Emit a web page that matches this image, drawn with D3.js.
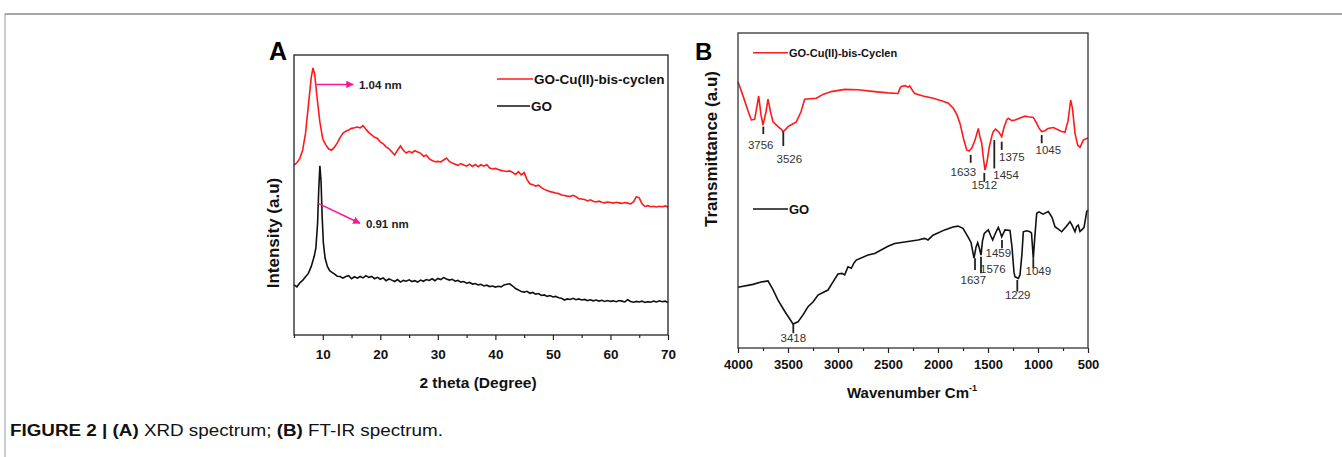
<!DOCTYPE html>
<html>
<head>
<meta charset="utf-8">
<script src="https://cdn.jsdelivr.net/npm/d3@7"></script>
<style>
  body { margin: 0; background: #fff; }
  svg { display: block; font-family: "Liberation Sans", Arial, sans-serif; }
</style>
</head>
<body>
<div id="figure"></div>
<script>
// ---- XRD (panel A): 2theta in degree, intensity in arbitrary units
const xrdGoCu = [
  [5,60.7],[5.5,61.5],[6,63],[6.5,66],[7,72],[7.5,82],[8,92],[8.3,95.4],[8.6,93],[9,85],[9.5,76],[10,70],
  [10.5,68],[11,66.5],[11.5,66],[12,67],[12.5,68.5],[13,70.5],[13.5,72],[14,72.8],[14.5,73.2],[15,73.8],
  [15.5,74],[16,74.3],[16.5,74],[17,74.8],[17.5,73.5],[18,72.3],[18.5,71.5],[19,70.6],[19.5,70.2],[20,69],
  [20.5,68.3],[21,67.2],[21.5,66.5],[22,65.4],[22.5,64.3],[23,66],[23.5,67.5],[24,66],[24.5,65],[25,65.6],
  [25.5,65.1],[26,65.8],[26.5,65.4],[27,64.9],[27.5,63.8],[28,64.2],[28.5,63],[29,62.3],[29.5,61.9],[30,62],
  [30.5,61.8],[31,62.5],[31.5,63.2],[32,62],[32.5,61.4],[33,61],[33.5,60.6],[34,61.2],[34.5,60.7],[35,60.3],
  [35.5,61],[36,60.2],[36.5,60.9],[37,60.1],[37.5,60.8],[38,60.3],[38.5,60.9],[39,59.6],[39.5,59.3],[40,59.5],
  [40.5,59.1],[41,58.8],[41.5,58.6],[42,58.4],[42.5,58.6],[43,58.1],[43.5,57.3],[44,58.3],[44.5,57.2],[45,58],
  [45.5,55.5],[46,54],[46.5,53.7],[47,53.2],[47.5,53.5],[48,52.6],[48.5,52],[49,51.6],[49.5,51.2],[50,51],
  [50.5,50.7],[51,50.5],[51.5,50],[52,49.8],[52.5,49.6],[53,49.5],[53.5,49.9],[54,49.4],[54.5,48.7],[55,48.6],
  [55.5,48.4],[56,47.9],[56.5,48.3],[57,47.8],[57.5,47.5],[58,47.8],[58.5,47.4],[59,47.2],[59.5,47.5],[60,47.3],
  [60.5,47.1],[61,47.4],[61.5,47.2],[62,47],[62.5,47.3],[63,47.1],[63.5,46.8],[64,47.5],[64.5,49.4],[65,49],
  [65.5,46.8],[66,45.9],[66.5,46.2],[67,45.8],[67.5,46],[68,45.7],[68.5,46],[69,45.8],[69.5,46.1],[70,45.7]
];
const xrdGo = [
  [5,17.9],[5.5,17.2],[6,18.6],[6.5,19.5],[7,20.8],[7.5,22],[8,24.5],[8.5,28],[8.8,31],[9.1,40],[9.3,52],
  [9.5,60.4],[9.7,55],[9.9,42],[10.1,33],[10.4,27.5],[10.8,24.5],[11.2,23],[11.6,22.4],[12,21.8],[12.5,21],
  [13,20.9],[13.5,20.3],[14,20.9],[14.5,21.2],[15,20.1],[15.5,20.8],[16,20.3],[16.5,20.9],[17,20.4],[17.5,21.2],
  [18,20.6],[18.5,20.9],[19,20.1],[19.5,20.6],[20,19.9],[20.5,20.4],[21,19.4],[21.5,20],[22,19.6],[22.5,19.1],
  [23,19.8],[23.5,18.9],[24,19.5],[24.5,19.2],[25,19.7],[25.5,19.1],[26,19.4],[26.5,18.9],[27,19.6],[27.5,19.2],
  [28,19.8],[28.5,19.5],[29,20.1],[29.5,19.4],[30,20.2],[30.5,19.8],[31,20.5],[31.5,20],[32,19.6],[32.5,19.9],
  [33,19.2],[33.5,19.5],[34,18.9],[34.5,19.1],[35,18.5],[35.5,18.8],[36,18.2],[36.5,18.4],[37,17.9],[37.5,18.1],
  [38,17.5],[38.5,17.8],[39,17.3],[39.5,17.5],[40,17.1],[40.5,17.4],[41,17.2],[41.5,17.9],[42,18.1],[42.5,18.3],
  [43,17.5],[43.5,16.6],[44,16.1],[44.5,15.5],[45,15.3],[45.5,15.6],[46,14.9],[46.5,15.2],[47,14.6],[47.5,14.8],
  [48,14.1],[48.5,14.3],[49,13.8],[49.5,14.1],[50,13.6],[50.5,13.8],[51,13.3],[51.5,13.1],[52,12.5],[52.5,12.9],
  [53,12.7],[53.5,13.1],[54,12.6],[54.5,12.9],[55,12.5],[55.5,12.7],[56,12.3],[56.5,12.6],[57,12.2],[57.5,12.5],
  [58,12.1],[58.5,12.4],[59,12],[59.5,12.3],[60,12],[60.5,12.2],[61,11.9],[61.5,12.3],[62,12.1],[62.5,11.8],
  [63,12.6],[63.5,12],[64,11.7],[64.5,12],[65,11.8],[65.5,12.1],[66,11.6],[66.5,11.9],[67,11.7],[67.5,12.1],
  [68,11.8],[68.5,12.2],[69,11.9],[69.5,12.1],[70,11.6]
];
const xrdTicks = [10, 20, 30, 40, 50, 60, 70];
const xrdMinorTicks = [5, 15, 25, 35, 45, 55, 65];
// d-spacing arrows: label, start and end in (degree, a.u)
const xrdArrows = [
  { label: "1.04 nm", from: [8.9, 89.5], to: [15.25, 89.5] },
  { label: "0.91 nm", from: [9.2, 47], to: [16.45, 39.9] }
];

// ---- FT-IR (panel B): wavenumber in cm-1, transmittance in arbitrary units
const irGoCu = [
  [4000,84.5],[3947,79.8],[3897,75],[3867,72.4],[3833,72.6],[3793,80],[3770,74],[3750,70.8],[3720,75],[3700,79],
  [3675,75],[3650,71.8],[3600,70.3],[3570,69.5],[3550,68.7],[3520,69.5],[3500,70.3],[3450,71.2],[3417,71.8],
  [3370,75],[3333,79],[3217,79.3],[3150,80.5],[3067,81.4],[2933,82.1],[2800,82],[2633,81.4],[2500,81],[2400,80.8],
  [2380,82.5],[2367,83],[2330,83.3],[2300,82.8],[2283,83.2],[2250,81.5],[2233,80.8],[2150,80],[2047,79.3],
  [1950,78.3],[1897,77.7],[1847,76.1],[1810,74],[1780,71.3],[1745,66.5],[1713,62.9],[1690,62.5],[1663,63.4],
  [1630,66],[1597,69.7],[1580,67],[1563,65],[1545,60],[1530,56.5],[1510,59],[1487,63.9],[1460,67.5],[1447,68.7],
  [1425,69.5],[1413,69.2],[1390,68.5],[1363,67.1],[1340,70],[1313,72.4],[1297,72.9],[1260,72.2],[1230,72.4],
  [1180,73],[1130,73.6],[1097,73.4],[1047,73.2],[1013,71.3],[990,69.8],[963,68.7],[930,69],[900,69.7],[847,70],
  [800,69.3],[763,68.7],[730,68.5],[700,72],[673,78.7],[655,76],[630,68.1],[603,64.4],[580,63.7],[547,66],
  [513,66.5],[500,66.7]
];
const irGo = [
  [4000,19.3],[3850,20.2],[3760,21],[3700,21.3],[3650,18.5],[3600,15.2],[3530,11.5],[3450,7.6],[3400,8.3],
  [3350,10.5],[3300,13.1],[3250,14.6],[3200,16.8],[3150,17.6],[3100,18.4],[3050,21],[3000,23.5],[2960,23.7],
  [2933,23.2],[2900,25.8],[2867,25.3],[2840,27],[2817,27.9],[2700,29.5],[2633,30],[2500,32.3],[2433,33.2],
  [2300,33.8],[2200,34.3],[2133,34.8],[2100,34.3],[2050,35.8],[1933,37.5],[1850,38.4],[1800,38.7],[1750,38],
  [1700,35.3],[1670,33.5],[1640,28.5],[1620,32],[1603,33.4],[1585,31.5],[1570,29.5],[1555,34],[1537,36.4],
  [1497,37.5],[1475,35.8],[1453,34.3],[1425,36.5],[1397,38.3],[1380,37],[1363,35.3],[1330,37.5],[1280,37.3],
  [1260,32],[1240,24],[1230,22.6],[1197,22.1],[1180,23.2],[1160,30],[1147,36.9],[1115,37.2],[1080,36.9],
  [1065,36.5],[1047,28.5],[1030,36],[1013,42.8],[990,43.2],[950,42.5],[897,43.3],[860,41.5],[830,38.5],
  [800,37.8],[763,36.9],[720,38.5],[680,40.1],[660,39],[630,36.9],[615,38.5],[597,39],[580,37],[563,37.5],
  [540,38.2],[513,43.3],[500,43.8]
];
const irTicks = [4000, 3500, 3000, 2500, 2000, 1500, 1000, 500];
const irMinorTicks = [3750, 3250, 2750, 2250, 1750, 1250, 750];
// band markers: label, tick position (cm-1), tick top/bottom (a.u), label x (cm-1), label baseline (a.u), anchor
const irBandsGoCu = [
  ["3756", 3747, 70.3, 67.9, 3773, 63.1, "middle"],
  ["3526", 3547, 68.7, 64.1, 3487, 58.6, "middle"],
  ["1633", 1673, 61.3, 58.8, 1747, 54.6, "middle"],
  ["1512", 1537, 55.6, 52.8, 1537, 50.4, "middle"],
  ["1454", 1437, 66, 57, 1447, 53.7, "start"],
  ["1375", 1363, 65.5, 62.9, 1390, 59.4, "start"],
  ["1045", 963, 67.6, 65, 897, 61.5, "middle"]
];
const irBandsGo = [
  ["3418", 3447, 7.8, 4.7, 3447, 2, "middle"],
  ["1637", 1630, 28.5, 24.8, 1647, 20.3, "middle"],
  ["1576", 1570, 29, 23.7, 1580, 23.7, "start"],
  ["1459", 1360, 34.3, 31.7, 1397, 29, "middle"],
  ["1229", 1207, 21.6, 17.9, 1203, 15.5, "middle"],
  ["1049", 1047, 28.5, 25.3, 997, 23.2, "middle"]
];

const width = 1342, height = 457;
const RED = "#ff1a1a", PINK = "#ff1493";

const svg = d3.select("#figure").append("svg")
  .attr("width", width)
  .attr("height", height);

svg.append("defs").append("marker")
  .attr("id", "arrowhead")
  .attr("viewBox", "0 0 10 10")
  .attr("refX", 9).attr("refY", 5)
  .attr("markerWidth", 5).attr("markerHeight", 5)
  .attr("markerUnits", "strokeWidth")
  .attr("orient", "auto")
  .append("path")
  .attr("d", "M0,0L10,5L0,10Z")
  .attr("fill", PINK);

// page frame lines
svg.append("line")
  .attr("x1", 5).attr("x2", width).attr("y1", 14).attr("y2", 14)
  .attr("stroke", "#8a8a8a").attr("stroke-width", 1.5);
svg.append("line")
  .attr("x1", 5).attr("x2", 5).attr("y1", 14).attr("y2", height)
  .attr("stroke", "#9a9a9a").attr("stroke-width", 1);

function styleAxis(g, size) {
  g.select(".domain").remove();
  g.selectAll(".tick line").attr("stroke", "#222").attr("stroke-width", 1.2);
  g.selectAll(".tick text")
    .attr("fill", "#111")
    .attr("font-size", size)
    .attr("font-weight", "bold");
}

function drawXrd() {
  const x = d3.scaleLinear().domain([5, 70]).range([294, 668]);
  const y = d3.scaleLinear().domain([0, 100]).range([335, 55]);
  const g = svg.append("g").attr("class", "xrd");

  g.append("g")
    .attr("transform", "translate(0,335)")
    .call(d3.axisBottom(x).tickValues(xrdMinorTicks).tickSize(3).tickFormat(""))
    .call(a => styleAxis(a, 13));
  g.append("g")
    .attr("transform", "translate(0,335)")
    .call(d3.axisBottom(x).tickValues(xrdTicks).tickSize(5).tickPadding(9).tickFormat(d3.format("d")))
    .call(a => styleAxis(a, 13.5));

  const line = d3.line().x(d => x(d[0])).y(d => y(d[1]));
  g.append("path").datum(xrdGoCu)
    .attr("d", line).attr("fill", "none").attr("stroke", RED).attr("stroke-width", 1.6);
  g.append("path").datum(xrdGo)
    .attr("d", line).attr("fill", "none").attr("stroke", "#111").attr("stroke-width", 1.6);

  g.append("rect")
    .attr("x", 294).attr("y", 55).attr("width", 374).attr("height", 280)
    .attr("fill", "none").attr("stroke", "#222").attr("stroke-width", 1.3);

  // d-spacing arrows
  xrdArrows.forEach(a => {
    g.append("line")
      .attr("x1", x(a.from[0])).attr("y1", y(a.from[1]))
      .attr("x2", x(a.to[0])).attr("y2", y(a.to[1]))
      .attr("stroke", PINK).attr("stroke-width", 1.5)
      .attr("marker-end", "url(#arrowhead)");
    g.append("text")
      .attr("x", x(a.to[0]) + 6).attr("y", y(a.to[1]) + 4.5)
      .attr("font-size", 11.5).attr("font-weight", "bold").attr("fill", "#222")
      .text(a.label);
  });

  // legend
  const legend = [["GO-Cu(II)-bis-cyclen", RED, 79, 36], ["GO", "#111", 106, 33]];
  legend.forEach(([name, color, ly, len]) => {
    g.append("line")
      .attr("x1", 497).attr("x2", 497 + len).attr("y1", ly).attr("y2", ly)
      .attr("stroke", color).attr("stroke-width", 1.6);
    g.append("text")
      .attr("x", 498 + len).attr("y", ly + 4.7)
      .attr("font-size", 13.5).attr("font-weight", "bold").attr("fill", "#111")
      .text(name);
  });

  g.append("text")
    .attr("x", 478).attr("y", 388)
    .attr("text-anchor", "middle")
    .attr("font-size", 15.5).attr("font-weight", "bold").attr("fill", "#111")
    .text("2 theta (Degree)");
  g.append("text")
    .attr("transform", "translate(278.5,233) rotate(-90)")
    .attr("text-anchor", "middle")
    .attr("font-size", 17).attr("font-weight", "bold").attr("fill", "#111")
    .text("Intensity (a.u)");
  g.append("text")
    .attr("x", 269).attr("y", 60)
    .attr("font-size", 25).attr("font-weight", "bold").attr("fill", "#000")
    .text("A");
}

function drawFtir() {
  const x = d3.scaleLinear().domain([4000, 500]).range([738, 1088]);
  const y = d3.scaleLinear().domain([0, 100]).range([348, 33]);
  const g = svg.append("g").attr("class", "ftir");

  g.append("g")
    .attr("transform", "translate(0,348)")
    .call(d3.axisBottom(x).tickValues(irMinorTicks).tickSize(3).tickFormat(""))
    .call(a => styleAxis(a, 13));
  g.append("g")
    .attr("transform", "translate(0,348)")
    .call(d3.axisBottom(x).tickValues(irTicks).tickSize(5).tickPadding(7).tickFormat(d3.format("d")))
    .call(a => styleAxis(a, 13));

  const line = d3.line().x(d => x(d[0])).y(d => y(d[1]));
  g.append("path").datum(irGoCu)
    .attr("d", line).attr("fill", "none").attr("stroke", RED).attr("stroke-width", 1.6);
  g.append("path").datum(irGo)
    .attr("d", line).attr("fill", "none").attr("stroke", "#111").attr("stroke-width", 1.6);

  g.append("rect")
    .attr("x", 738).attr("y", 33).attr("width", 350).attr("height", 315)
    .attr("fill", "none").attr("stroke", "#333").attr("stroke-width", 1.3);

  [irBandsGoCu, irBandsGo].forEach(bands => {
    bands.forEach(([label, pos, top, bottom, lx, ly, anchor]) => {
      g.append("line")
        .attr("x1", x(pos)).attr("x2", x(pos)).attr("y1", y(top)).attr("y2", y(bottom))
        .attr("stroke", "#222").attr("stroke-width", 1.8);
      g.append("text")
        .attr("x", x(lx)).attr("y", y(ly))
        .attr("text-anchor", anchor)
        .attr("font-size", 11.5).attr("fill", "#333")
        .text(label);
    });
  });

  const legend = [["GO-Cu(II)-bis-Cyclen", RED, 52.7, 11], ["GO", "#111", 209, 13]];
  legend.forEach(([name, color, ly, size]) => {
    g.append("line")
      .attr("x1", 753).attr("x2", 788).attr("y1", ly).attr("y2", ly)
      .attr("stroke", color).attr("stroke-width", 1.6);
    g.append("text")
      .attr("x", 789).attr("y", ly + size * 0.36)
      .attr("font-size", size).attr("font-weight", "bold").attr("fill", "#111")
      .text(name);
  });

  const xt = g.append("text")
    .attr("x", 912).attr("y", 398)
    .attr("text-anchor", "middle")
    .attr("font-size", 15).attr("font-weight", "bold").attr("fill", "#111");
  xt.append("tspan").text("Wavenumber Cm");
  xt.append("tspan").attr("dy", -7).attr("font-size", 9).text("-1");

  g.append("text")
    .attr("transform", "translate(716.5,149) rotate(-90)")
    .attr("text-anchor", "middle")
    .attr("font-size", 17).attr("font-weight", "bold").attr("fill", "#111")
    .text("Transmittance (a.u)");
  g.append("text")
    .attr("x", 695).attr("y", 60)
    .attr("font-size", 24).attr("font-weight", "bold").attr("fill", "#000")
    .text("B");
}

drawXrd();
drawFtir();

// caption (condensed face in the original, so stretch to its measured width)
const cap = svg.append("text")
  .attr("x", 10).attr("y", 436)
  .attr("font-size", 16).attr("fill", "#111")
  .attr("textLength", 433).attr("lengthAdjust", "spacingAndGlyphs");
cap.append("tspan").attr("font-weight", "bold").text("FIGURE 2 | (A)");
cap.append("tspan").text(" XRD spectrum; ");
cap.append("tspan").attr("font-weight", "bold").text("(B)");
cap.append("tspan").text(" FT-IR spectrum.");
</script>
</body>
</html>
